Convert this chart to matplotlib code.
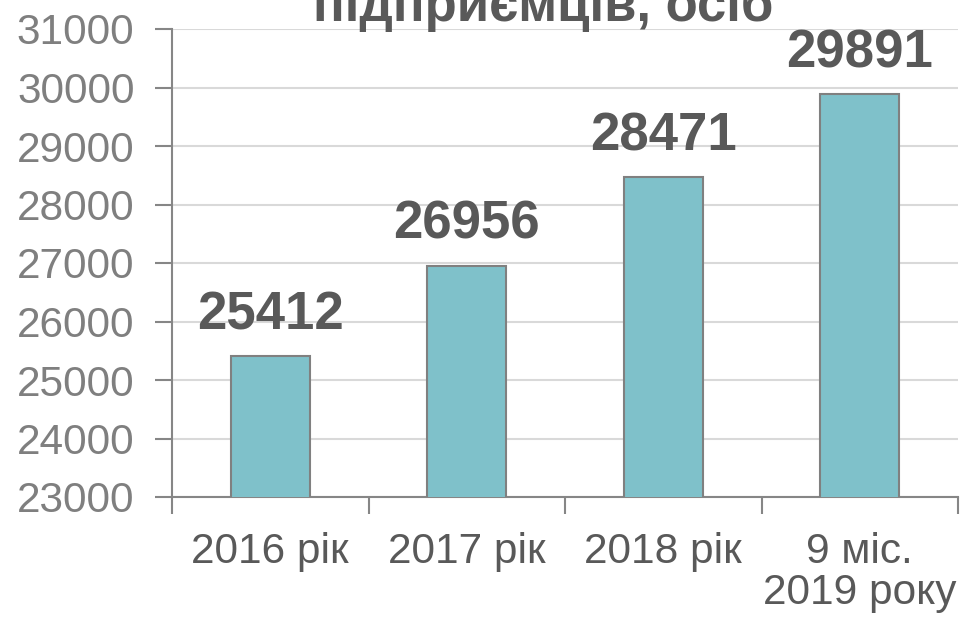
import matplotlib.pyplot as plt

categories = ['2016 рік', '2017 рік', '2018 рік', '9 міс.\n2019 року']
values = [25412, 26956, 28471, 29891]
title = 'підприємців, осіб'

plt.rcParams['font.family'] = ['Liberation Sans', 'DejaVu Sans']
grey = '#595959'
light = '#7F7F7F'
axis_col = '#868686'

fig = plt.figure(figsize=(9.61, 6.22), dpi=100)
ax = fig.add_axes([172/961, 1-497/622, (958-172)/961, (497-29)/622])

x = range(len(values))
ax.bar(x, values, width=0.4, color='#7FC1CA', edgecolor='#808080', linewidth=1.5, zorder=3)
for i, v in enumerate(values):
    ax.text(i, v + 270, str(v), ha='center', va='bottom', fontsize=38,
            fontweight='bold', color=grey, zorder=4)

ax.set_xlim(-0.5, 3.5)
ax.set_ylim(23000, 31000)
ax.set_yticks(range(23000, 31001, 1000))
ax.set_xticks([-0.5, 0.5, 1.5, 2.5, 3.5], minor=False)
ax.set_xticklabels([])
ax.set_xticks(list(x), minor=True)
ax.set_xticklabels(categories, minor=True, linespacing=1.05)
ax.tick_params(axis='x', which='minor', length=0, pad=25, labelsize=30.5, labelcolor=grey)
ax.tick_params(axis='x', which='major', length=12, color=axis_col, width=1.5)
ax.tick_params(axis='y', length=12, color=axis_col, width=1.5, labelsize=30.5,
               labelcolor=light, pad=15)
ax.yaxis.grid(True, color='#D9D9D9', linewidth=1.5, zorder=0)

for s in ['top', 'right']:
    ax.spines[s].set_visible(False)
for s in ['left', 'bottom']:
    ax.spines[s].set_color(axis_col)
    ax.spines[s].set_linewidth(1.5)

fig.text(543/961, 1-21/622, title, ha='center', va='baseline', fontsize=38,
         fontweight='bold', color=grey)

fig.savefig('out.png', dpi=100)
